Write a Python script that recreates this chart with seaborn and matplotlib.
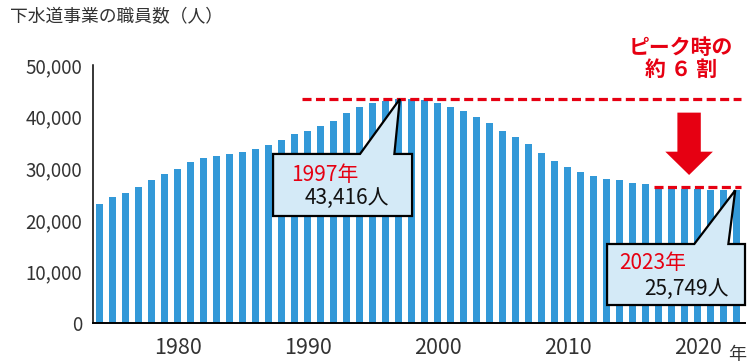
import numpy as np
import pandas as pd
import matplotlib
matplotlib.use("Agg")
import matplotlib.pyplot as plt
from matplotlib.patches import Polygon
import seaborn as sns

# Sewerage-service staff per fiscal year
years = list(range(1974, 2024))
staff = [23100, 24450, 25230, 26390, 27740, 28900, 29870, 31230, 32000, 32390,
         32780, 33170, 33750, 34520, 35490, 36700, 37230, 38260, 39170, 40720,
         41940, 42590, 43040, 43416, 43370, 43230, 42590, 41940, 41100, 39940,
         38780, 37230, 36070, 34710, 33030, 31420, 30260, 29290, 28520, 27940,
         27740, 27160, 26970, 26450, 26100, 26000, 25950, 25900, 25800, 25749]
year_ticks = [1980, 1990, 2000, 2010, 2020]
value_ticks = [0, 10000, 20000, 30000, 40000, 50000]

peak_year, peak_val = 1997, 43416
last_year, last_val = 2023, 25749

RED = "#e60012"
BLUE = "#3399d8"
BOX = "#d4eaf7"
TXT = "#333333"

sns.set_style("white")
plt.rcParams["font.family"] = ["Noto Sans CJK JP", "DejaVu Sans"]
plt.rcParams["lines.scale_dashes"] = False

df = pd.DataFrame({"year": years, "staff": staff})

fig = plt.figure(figsize=(7.48, 3.64), dpi=100)
ax = fig.add_axes([93 / 748, 1 - 323.3 / 364, (745 - 93) / 748, (323.3 - 65) / 364])

sns.barplot(data=df, x="year", y="staff", native_scale=True, width=0.54,
            color=BLUE, saturation=1, linewidth=0, ax=ax, zorder=1)

ax.set_xlim(1973.5, 2023.65)
ax.set_ylim(0, 50000)
ax.set_xlabel("")
ax.set_ylabel("")

# axes frame
for side in ("top", "right"):
    ax.spines[side].set_visible(False)
ax.spines["left"].set_color("black")
ax.spines["left"].set_linewidth(1.1)
ax.spines["bottom"].set_color("black")
ax.spines["bottom"].set_linewidth(1.4)

ax.set_yticks(value_ticks)
ax.set_yticklabels([f"{v:,}" for v in value_ticks])
ax.tick_params(axis="y", direction="in", length=12, width=1.0, color="#666666",
               pad=8, labelsize=13.5, labelcolor=TXT)

ax.set_xticks(year_ticks)
ax.set_xticklabels([str(y) for y in year_ticks])
ax.set_xticks(np.arange(years[0] + 0.5, years[-1] + 1, 1), minor=True)
ax.tick_params(axis="x", which="major", length=0, pad=10, labelsize=15.5,
               labelcolor=TXT)
ax.tick_params(axis="x", which="minor", direction="in", length=3.2, width=0.9,
               color="#333333")
ax.grid(False)

# reference lines at the peak and at the latest year
ax.hlines(peak_val, 1989.6, 2023.35, colors=RED, linewidth=2.3,
          linestyles=(0, (6.5, 3.2)), zorder=4, clip_on=False)
ax.hlines(last_val + 600, 2016.65, 2023.35, colors=RED, linewidth=2.3,
          linestyles=(0, (6.5, 3.2)), zorder=4, clip_on=False)


def callout(x0, x1, y_top, y_bot, base0, base1, tip):
    verts = [(x0, y_top), (base0, y_top), tip, (base1, y_top),
             (x1, y_top), (x1, y_bot), (x0, y_bot)]
    ax.add_patch(Polygon(verts, closed=True, facecolor=BOX, edgecolor="black",
                         linewidth=1.6, joinstyle="miter", zorder=5,
                         clip_on=False))


callout(1987.35, 1998.04, 32780, 20770, 1994.04, 1996.68,
        (peak_year + 0.1, peak_val))
ax.text(1988.75, 28710, f"{peak_year}年", color=RED, fontsize=15,
        ha="left", va="center", zorder=6)
ax.text(1989.75, 24360, f"{peak_val:,}人", color="#111111", fontsize=15,
        ha="left", va="center", zorder=6)

callout(2013.04, 2023.65, 15350, 3540, 2019.75, 2022.37,
        (last_year - 0.1, last_val))
ax.text(2014.0, 11580, f"{last_year}年", color=RED, fontsize=15,
        ha="left", va="center", zorder=6)
ax.text(2015.9, 6740, f"{last_val:,}人", color="#111111", fontsize=15,
        ha="left", va="center", zorder=6)

# downward arrow between the two reference lines
cx, shaft_w, head_w = 2019.35, 0.9, 1.83
shaft_top, head_base, tip_y = 40780, 33220, 28710
arrow = [(cx - shaft_w, shaft_top), (cx + shaft_w, shaft_top),
         (cx + shaft_w, head_base), (cx + head_w, head_base), (cx, tip_y),
         (cx - head_w, head_base), (cx - shaft_w, head_base)]
ax.add_patch(Polygon(arrow, closed=True, facecolor=RED, edgecolor="none",
                     zorder=5, clip_on=False))

fig.text(681 / 748, 1 - 47.5 / 364, "ピーク時の", color=RED, fontsize=15,
         fontweight="bold", ha="center", va="center")
fig.text(681.5 / 748, 1 - 69.5 / 364, "約 ６ 割", color=RED, fontsize=15,
         fontweight="bold", ha="center", va="center")

fig.text(10 / 748, 1 - 17.5 / 364, "下水道事業の職員数（人）", color=TXT,
         fontsize=12.8, ha="left", va="center")
fig.text(737.5 / 748, 1 - 355 / 364, "年", color=TXT, fontsize=13,
         ha="center", va="center")

fig.savefig("out.png", dpi=100)
